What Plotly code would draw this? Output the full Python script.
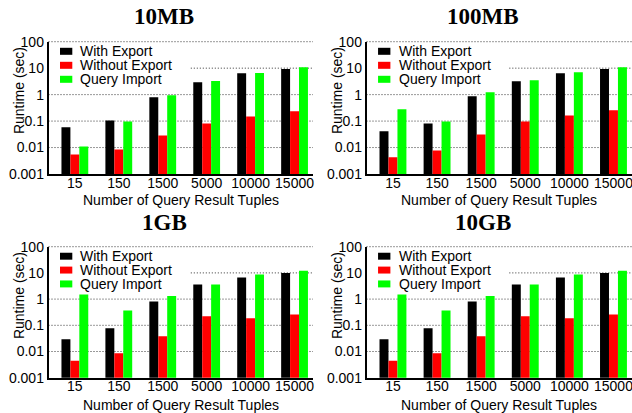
import plotly.graph_objects as go

# ---------------- data ----------------
categories = ["15", "150", "1500", "5000", "10000", "15000"]
panel_titles = ["10MB", "100MB", "1GB", "10GB"]
series_names = ["With Export", "Without Export", "Query Import"]
series_colors = ["#000000", "#ff0000", "#00ff00"]

with_export_10mb = [0.059, 0.106, 0.79, 2.94, 6.46, 9.2]
without_export_10mb = [0.0054, 0.0084, 0.0286, 0.081, 0.150, 0.233]
query_import_10mb = [0.0109, 0.097, 0.94, 3.3, 6.5, 10.9]

with_export_100mb = [0.041, 0.081, 0.86, 3.2, 6.46, 9.2]
without_export_100mb = [0.0043, 0.0077, 0.031, 0.097, 0.164, 0.254]
query_import_100mb = [0.277, 0.097, 1.23, 3.5, 7.05, 10.9]

with_export_1gb = [0.0294, 0.077, 0.81, 3.6, 6.65, 10.0]
without_export_1gb = [0.0044, 0.0086, 0.038, 0.22, 0.185, 0.26]
query_import_1gb = [1.5, 0.37, 1.3, 3.6, 8.6, 12.0]

with_export_10gb = [0.0294, 0.077, 0.81, 3.6, 6.65, 10.0]
without_export_10gb = [0.0044, 0.0086, 0.038, 0.22, 0.185, 0.26]
query_import_10gb = [1.5, 0.37, 1.3, 3.6, 8.6, 12.0]

y_tick_vals = [0.001, 0.01, 0.1, 1, 10, 100]
y_tick_text = ["0.001", "0.01", "0.1", "1", "10", "100"]
x_title = "Number of Query Result Tuples"
y_title = "Runtime (sec)"

panels = [
    (with_export_10mb, without_export_10mb, query_import_10mb),
    (with_export_100mb, without_export_100mb, query_import_100mb),
    (with_export_1gb, without_export_1gb, query_import_1gb),
    (with_export_10gb, without_export_10gb, query_import_10gb),
]

# ---------------- layout geometry ----------------
W, H = 632, 413
SANS = "Liberation Sans, Arial, Helvetica, sans-serif"
SERIF = "Liberation Serif, Times New Roman, serif"
x_domains = [(48.5 / W, 313 / W), (366.5 / W, 1.0), (48.5 / W, 313 / W), (366.5 / W, 1.0)]
y_domains = [(1 - 174 / H, 1 - 41.7 / H), (1 - 174 / H, 1 - 41.7 / H),
             (1 - 377.7 / H, 1 - 246.7 / H), (1 - 377.7 / H, 1 - 246.7 / H)]
title_pos = [(164, 17), (483, 17), (164, 222.5), (483, 222.5)]

fig = go.Figure()
layout = dict(
    width=W, height=H, template="none",
    margin=dict(l=0, r=0, t=0, b=0, autoexpand=False),
    paper_bgcolor="white", plot_bgcolor="white",
    barmode="group", bargap=0.39, bargroupgap=0,
    showlegend=False,
    font=dict(family=SANS, size=14, color="black"),
)
shapes, annotations = [], []

for i, (vals, title) in enumerate(zip(panels, panel_titles)):
    n = i + 1
    xa = "x" if n == 1 else f"x{n}"
    ya = "y" if n == 1 else f"y{n}"
    for name, color, v in zip(series_names, series_colors, vals):
        fig.add_trace(go.Bar(x=categories, y=v, name=name, marker=dict(color=color, line=dict(width=0)),
                             xaxis=xa, yaxis=ya))
    layout["xaxis" if n == 1 else f"xaxis{n}"] = dict(
        domain=x_domains[i], anchor=ya, type="category", range=[-0.6, 5.42],
        showgrid=False, zeroline=False, showline=True, linecolor="black", linewidth=1.5,
        ticks="", tickfont=dict(size=14, family=SANS), ticklabelstandoff=-5,
    )
    layout["yaxis" if n == 1 else f"yaxis{n}"] = dict(
        domain=y_domains[i], anchor=xa, type="log", range=[-3, 2],
        tickvals=y_tick_vals, ticktext=y_tick_text,
        showgrid=False, zeroline=False, showline=True, linecolor="black", linewidth=1.5,
        ticks="", tickfont=dict(size=14, family=SANS),
    )
    xd = f"{xa} domain"
    yd = f"{ya} domain"
    # dotted horizontal grid lines (decades), the 10-line interrupted by the legend box
    for k in range(1, 6):
        gx0 = 0.538 if k == 4 else 0.0
        shapes.append(dict(type="line", xref=xd, yref=yd, x0=gx0, x1=1.0, y0=k / 5, y1=k / 5,
                           line=dict(color="#333333", width=1, dash="1px,2px"), layer="below"))
    for k, (name, color) in enumerate(zip(series_names, series_colors)):
        yc = [0.9274, 0.8216, 0.7158][k]
        shapes.append(dict(type="rect", xref=xd, yref=yd, x0=0.0435, x1=0.090,
                           y0=yc - 0.0265, y1=yc + 0.0265, fillcolor=color,
                           line=dict(width=0), layer="above"))
        annotations.append(dict(text=name, xref=xd, yref=yd, x=0.117, y=yc,
                                xanchor="left", yanchor="middle", showarrow=False, borderpad=0,
                                font=dict(size=14, family=SANS, color="black")))
    # panel title
    tx, ty = title_pos[i]
    annotations.append(dict(text=f"<b>{title}</b>", xref="paper", yref="paper",
                            x=tx / W, y=1 - ty / H, xanchor="center", yanchor="middle",
                            showarrow=False, font=dict(size=23, family=SERIF, color="black")))
    # axis titles
    x0, x1 = x_domains[i]
    xt_y = 200 if i < 2 else 405
    annotations.append(dict(text=x_title, xref="paper", yref="paper",
                            x=(x0 + x1) / 2, y=1 - xt_y / H, xanchor="center", yanchor="middle",
                            showarrow=False, font=dict(size=14, family=SANS, color="black")))
    yt_y = 91 if i < 2 else 296
    annotations.append(dict(text=y_title, xref="paper", yref="paper", textangle=-90,
                            x=(x0 * W - 29.4) / W, y=1 - yt_y / H, xanchor="center", yanchor="middle",
                            showarrow=False, font=dict(size=14, family=SANS, color="black")))

layout["shapes"] = shapes
layout["annotations"] = annotations
fig.update_layout(**layout)
fig.write_html("out.html", config={"displayModeBar": False},
               post_script="document.body.style.margin='0';document.body.style.padding='0';")
